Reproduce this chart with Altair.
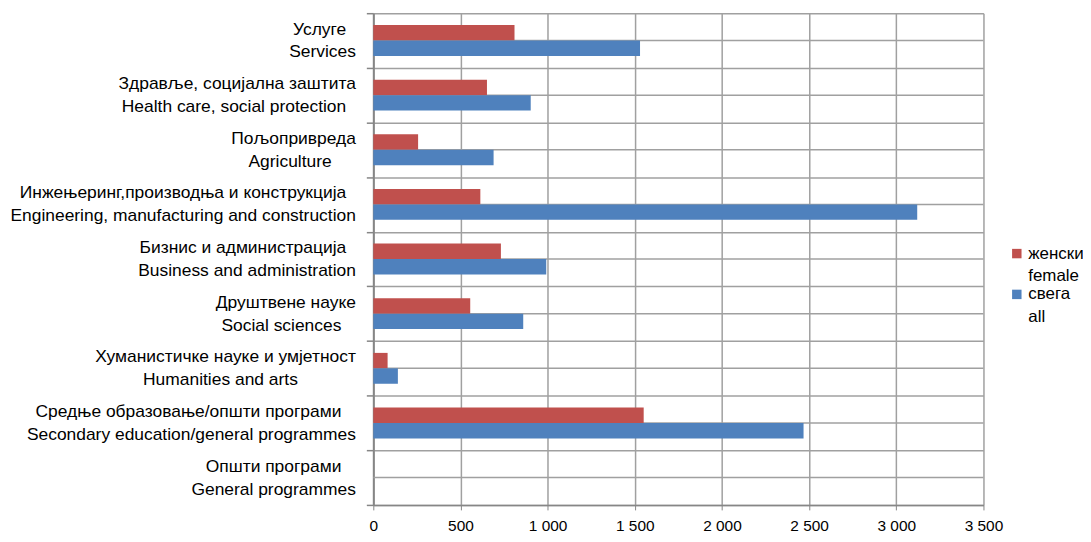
import altair as alt
import pandas as pd

NB = "\u00a0"
WJ = "\u2060"
labels_sr = ["Услуге" + NB * 2 + WJ, "Здравље, социјална заштита", "Пољопривреда",
             "Инжењеринг,производња и конструкција" + NB * 2 + WJ,
             "Бизнис и администрација" + NB * 2 + WJ,
             "Друштвене науке", "Хуманистичке науке и умјетност",
             "Средње образовање/општи програми" + NB * 3 + WJ, "Општи програми" + NB * 3 + WJ]
labels_en = ["Services", "Health care, social protection" + NB * 2 + WJ,
             "Agriculture" + NB * 5 + WJ,
             "Engineering, manufacturing and construction", "Business and administration",
             "Social sciences" + NB * 3 + WJ, "Humanities and arts" + NB * 12 + WJ,
             "Secondary education/general programmes", "General programmes"]
female = [810, 652, 257, 614, 732, 556, 82, 1551, 0]
total = [1530, 903, 690, 3120, 992, 860, 141, 2468, 0]
x_ticks = [0, 500, 1000, 1500, 2000, 2500, 3000, 3500]

series = ["женски\nfemale", "свега\nall"]
colors = ["#C0504D", "#4F81BD"]

cats = [a + "\n" + b for a, b in zip(labels_sr, labels_en)]
rows = []
for c, f, t in zip(cats, female, total):
    rows.append({"cat": c, "series": series[0], "value": f})
    rows.append({"cat": c, "series": series[1], "value": t})
df = pd.DataFrame(rows)

grid_col = "#a0a0a0"
axis_col = "#868686"
font = "Liberation Sans"

yscale = alt.Scale(domain=cats, paddingInner=0, paddingOuter=0)
xscale = alt.Scale(domain=[0, 3500], nice=False)

y_axis = alt.Axis(tickBand="extent", grid=True, gridColor=grid_col, gridWidth=1.5,
                  gridOpacity=1,
                  domainColor=axis_col, domainWidth=2, tickColor=axis_col,
                  tickSize=7, tickWidth=1.5, labelPadding=11,
                  labelExpr="split(datum.label, '\\n')", labelLineHeight=23,
                  labelOffset=-11.5,
                  labelAlign="right", labelBaseline="middle",
                  labelFont=font, labelFontSize=17.5, labelColor="#000000",
                  labelLimit=0)
x_axis = alt.Axis(values=x_ticks, grid=True, gridColor=grid_col, gridWidth=1.5,
                  gridOpacity=1, labelFlush=False,
                  domainColor=axis_col, domainWidth=1.5, tickColor=axis_col, tickSize=5,
                  labelPadding=9, labelFont=font, labelFontSize=15.5,
                  labelColor="#000000",
                  labelExpr="replace(format(datum.value, ','), ',', ' ')")

mid = pd.DataFrame({"cat": cats})
midlines = alt.Chart(mid).mark_rule(color=grid_col, strokeWidth=1.5, opacity=1).encode(
    y=alt.Y("cat:N", scale=yscale, title=None, axis=y_axis),
    x=alt.datum(0, scale=xscale, axis=x_axis, title=None),
    x2=alt.datum(3500),
)

bars = alt.Chart(df).mark_bar().encode(
    y=alt.Y("cat:N", scale=yscale, title=None, axis=y_axis),
    yOffset=alt.YOffset("series:N", sort=series,
                        scale=alt.Scale(paddingOuter=0.77, paddingInner=0)),
    x=alt.X("value:Q", scale=xscale, title=None, axis=x_axis),
    color=alt.Color("series:N", sort=series,
                    scale=alt.Scale(domain=series, range=colors), title=None,
                    legend=alt.Legend(orient="none", legendX=638, legendY=233,
                                      labelExpr="split(datum.label, '\\n')",
                                      labelFont=font, labelFontSize=17,
                                      labelColor="#000000", symbolType="square",
                                      symbolSize=90, symbolStrokeWidth=0,
                                      rowPadding=0, labelOffset=3, labelLimit=0)),
)

chart = alt.layer(midlines, bars).properties(
    width=613, height=494,
    autosize=alt.AutoSizeParams(type="none"),
    padding={"left": 367, "top": 4, "right": 100, "bottom": 28},
).configure(
    background="white",
    style={"guide-label": {"lineHeight": 23}},
).configure_view(stroke=None)

chart.save("out.html", embed_options={"renderer": "svg", "actions": False})
